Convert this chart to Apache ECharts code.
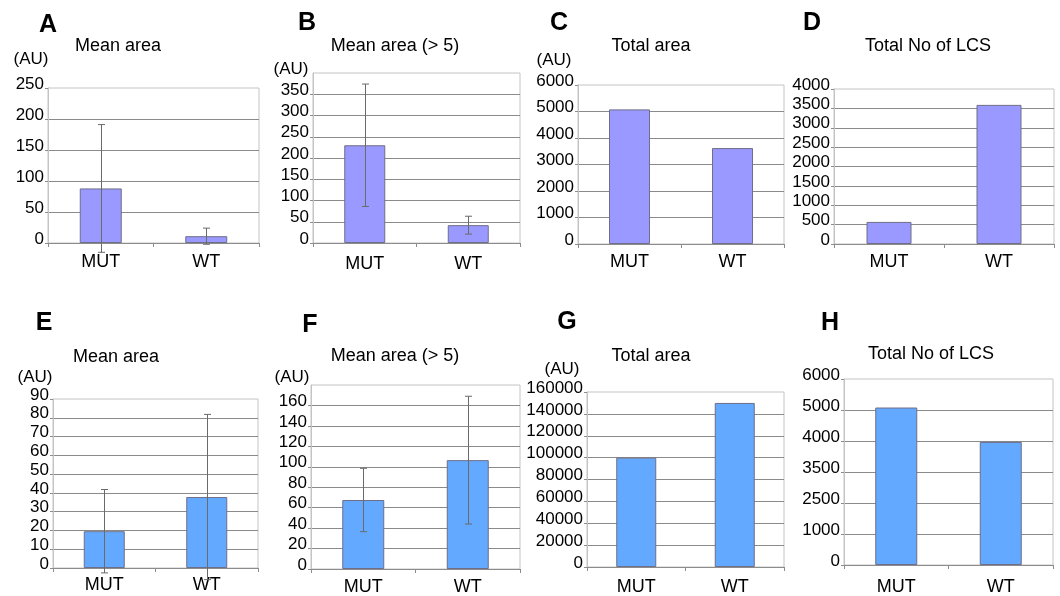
<!DOCTYPE html>
<html>
<head>
<meta charset="utf-8">
<script src="https://cdn.jsdelivr.net/npm/echarts@6/dist/echarts.min.js"></script>
<style>
  html, body { margin: 0; padding: 0; background: #fff; }
  #myEchart { width: 1060px; height: 596px; }
</style>
</head>
<body>
<div id="myEchart"></div>
<script>
var categories = ['MUT', 'WT'];

// top row (A-D)
var meanAreaA = [88, 11];
var meanAreaAErr = [103, 13];
var meanAreaGt5B = [230, 42];
var meanAreaGt5BErr = [144, 21];
var totalAreaC = [5080, 3620];
var totalLcsD = [570, 3590];

// bottom row (E-H)
var meanAreaE = [19.6, 37.8];
var meanAreaEErr = [22.2, 44];
var meanAreaGt5F = [67.5, 106.5];
var meanAreaGt5FErr = [31, 62.5];
var totalAreaG = [100000, 150000];
var totalLcsH = [5080, 3970];

// panel H prints these labels on evenly spaced ticks
var hTickLabels = ['0', '1000', '2500', '3500', '4000', '5000', '6000'];

var panelLetters = ['A', 'B', 'C', 'D', 'E', 'F', 'G', 'H'];
var panelTitles = ['Mean area', 'Mean area (> 5)', 'Total area', 'Total No of LCS',
                   'Mean area', 'Mean area (> 5)', 'Total area', 'Total No of LCS'];

var panels = [
    { grid: [48, 88, 211, 155],  max: 250,    step: 50,    vals: meanAreaA,    err: meanAreaAErr,    bw: 42, color: '#9999ff', margin: 10,
      letter: [48, 25],  title: [118, 46], au: [31, 59] },
    { grid: [313, 73, 207, 170], max: 400,    step: 50,    vals: meanAreaGt5B, err: meanAreaGt5BErr, bw: 41, color: '#9999ff', margin: 12, hideMax: true,
      letter: [307, 23], title: [395, 46], au: [291, 69] },
    { grid: [578, 85, 206, 159], max: 6000,   step: 1000,  vals: totalAreaC,   err: null,            bw: 41, color: '#9999ff', margin: 9,
      letter: [559, 23], title: [651, 46], au: [554, 60] },
    { grid: [834, 89, 220, 155], max: 4000,   step: 500,   vals: totalLcsD,    err: null,            bw: 45, color: '#9999ff', margin: 9,
      letter: [812, 23], title: [928, 46], au: null },
    { grid: [53, 399, 205, 169], max: 90,     step: 10,    vals: meanAreaE,    err: meanAreaEErr,    bw: 41, color: '#63a9ff', margin: 8,
      letter: [44, 323], title: [116, 357], au: [35, 377] },
    { grid: [311, 385, 209, 184], max: 180,   step: 20,    vals: meanAreaGt5F, err: meanAreaGt5FErr, bw: 42, color: '#63a9ff', margin: 9, hideMax: true,
      letter: [310, 325], title: [395, 356], au: [292, 377] },
    { grid: [587, 392, 197, 176], max: 160000, step: 20000, vals: totalAreaG,  err: null,            bw: 40, color: '#63a9ff', margin: 11,
      letter: [567, 322], title: [651, 356], au: [562, 369] },
    { grid: [844, 379, 209, 189], max: 6000,  step: 1000,  vals: totalLcsH,    err: null,            bw: 42, color: '#63a9ff', margin: 13,
      labels: hTickLabels,
      letter: [830, 323], title: [931, 354], au: null }
];

var FONT = 'Liberation Sans, Arial, sans-serif';

function renderErr(params, api) {
    var x = api.value(0), y = api.value(1), e = api.value(2);
    var hi = api.coord([x, y + e]);
    var lo = api.coord([x, y - e]);
    var cx = Math.round(hi[0]) + 0.5;
    var sty = { stroke: '#6a6a6a', lineWidth: 1 };
    return {
        type: 'group',
        children: [
            { type: 'line', shape: { x1: cx, y1: hi[1], x2: cx, y2: lo[1] }, style: sty },
            { type: 'line', shape: { x1: cx - 3.5, y1: hi[1], x2: cx + 3.5, y2: hi[1] }, style: sty },
            { type: 'line', shape: { x1: cx - 3.5, y1: lo[1], x2: cx + 3.5, y2: lo[1] }, style: sty }
        ]
    };
}

var grids = [], xAxes = [], yAxes = [], series = [], texts = [];

panels.forEach(function(p, i) {
    grids.push({
        left: p.grid[0], top: p.grid[1], width: p.grid[2], height: p.grid[3],
        show: true, borderColor: '#c4c4c4', borderWidth: 1
    });
    xAxes.push({
        type: 'category', gridIndex: i, data: categories,
        axisLine: { lineStyle: { color: '#8c8c8c' } },
        axisTick: { show: true, length: 4, lineStyle: { color: '#8c8c8c' } },
        axisLabel: { color: '#000', fontSize: 18, fontFamily: FONT, margin: p.margin, lineHeight: 18 }
    });
    yAxes.push({
        type: 'value', gridIndex: i, min: 0, max: p.max, interval: p.step,
        axisLine: { show: true, lineStyle: { color: '#c4c4c4' } },
        axisTick: { show: true, inside: false, length: 3, lineStyle: { color: '#8c8c8c' } },
        splitLine: { show: true, showMaxLine: false, lineStyle: { color: '#8a8a8a' } },
        axisLabel: {
            color: '#000', fontSize: 17, fontFamily: FONT, margin: 4,
            verticalAlign: 'bottom', lineHeight: 8,
            showMaxLabel: !p.hideMax,
            formatter: p.labels
                ? function(v) { return p.labels[Math.round(v / p.step)]; }
                : function(v) { return String(v); }
        }
    });
    series.push({
        type: 'bar', xAxisIndex: i, yAxisIndex: i, data: p.vals, barWidth: p.bw,
        itemStyle: { color: p.color, borderColor: '#6e6e88', borderWidth: 1 },
        silent: true
    });
    if (p.err) {
        series.push({
            type: 'custom', xAxisIndex: i, yAxisIndex: i, z: 5, clip: false,
            renderItem: renderErr,
            data: p.vals.map(function(v, k) { return [k, v, p.err[k]]; })
        });
    }
    texts.push({
        type: 'text', x: p.letter[0], y: p.letter[1],
        style: { text: panelLetters[i], font: 'bold 25px ' + FONT, fill: '#000', align: 'center', verticalAlign: 'middle' }
    });
    texts.push({
        type: 'text', x: p.title[0], y: p.title[1],
        style: { text: panelTitles[i], font: '18px ' + FONT, fill: '#000', align: 'center', verticalAlign: 'middle' }
    });
    if (p.au) {
        texts.push({
            type: 'text', x: p.au[0], y: p.au[1],
            style: { text: '(AU)', font: '17px ' + FONT, fill: '#000', align: 'center', verticalAlign: 'middle' }
        });
    }
});

var myChart = echarts.init(document.getElementById('myEchart'));
myChart.setOption({
    animation: false,
    backgroundColor: '#fff',
    grid: grids,
    xAxis: xAxes,
    yAxis: yAxes,
    series: series,
    graphic: texts
});
</script>
</body>
</html>
